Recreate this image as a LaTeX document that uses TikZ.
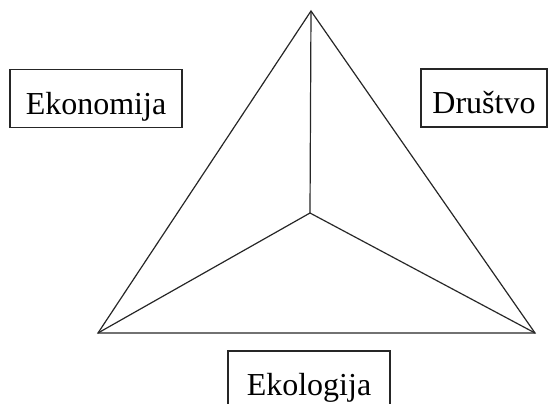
\documentclass[tikz,border=0pt]{standalone}
\usepackage{fontspec}
\setmainfont{Liberation Serif}
\begin{document}
\begin{tikzpicture}[x=1pt,y=-1pt,
  edge/.style={line width=1.2pt,draw=black!85},
  label box/.style={draw=black!85,line width=1.3pt,rectangle,inner sep=0pt,
    minimum height=58pt,text height=31pt,text depth=0pt,
    font=\fontsize{32}{38}\selectfont}]
  \useasboundingbox (0,0) rectangle (552,404);
  % triangle corners and inner point
  \coordinate (top) at (311,11);
  \coordinate (left) at (98,333);
  \coordinate (right) at (535,333);
  \coordinate (mid) at (310,213);
  \draw[edge,line join=miter] (top) -- (left) -- (right) -- cycle;
  \draw[edge] (top) -- (mid);
  \draw[edge] (left) -- (mid);
  \draw[edge] (right) -- (mid);
  % labels
  \node[label box,minimum width=172pt] (eko) at (96,98.5) {Ekonomija};
  \node[label box,minimum width=126pt] (dru) at (484,98) {Društvo};
  \node[label box,minimum width=162pt] (ekol) at (309,380) {Ekologija};
\end{tikzpicture}
\end{document}
